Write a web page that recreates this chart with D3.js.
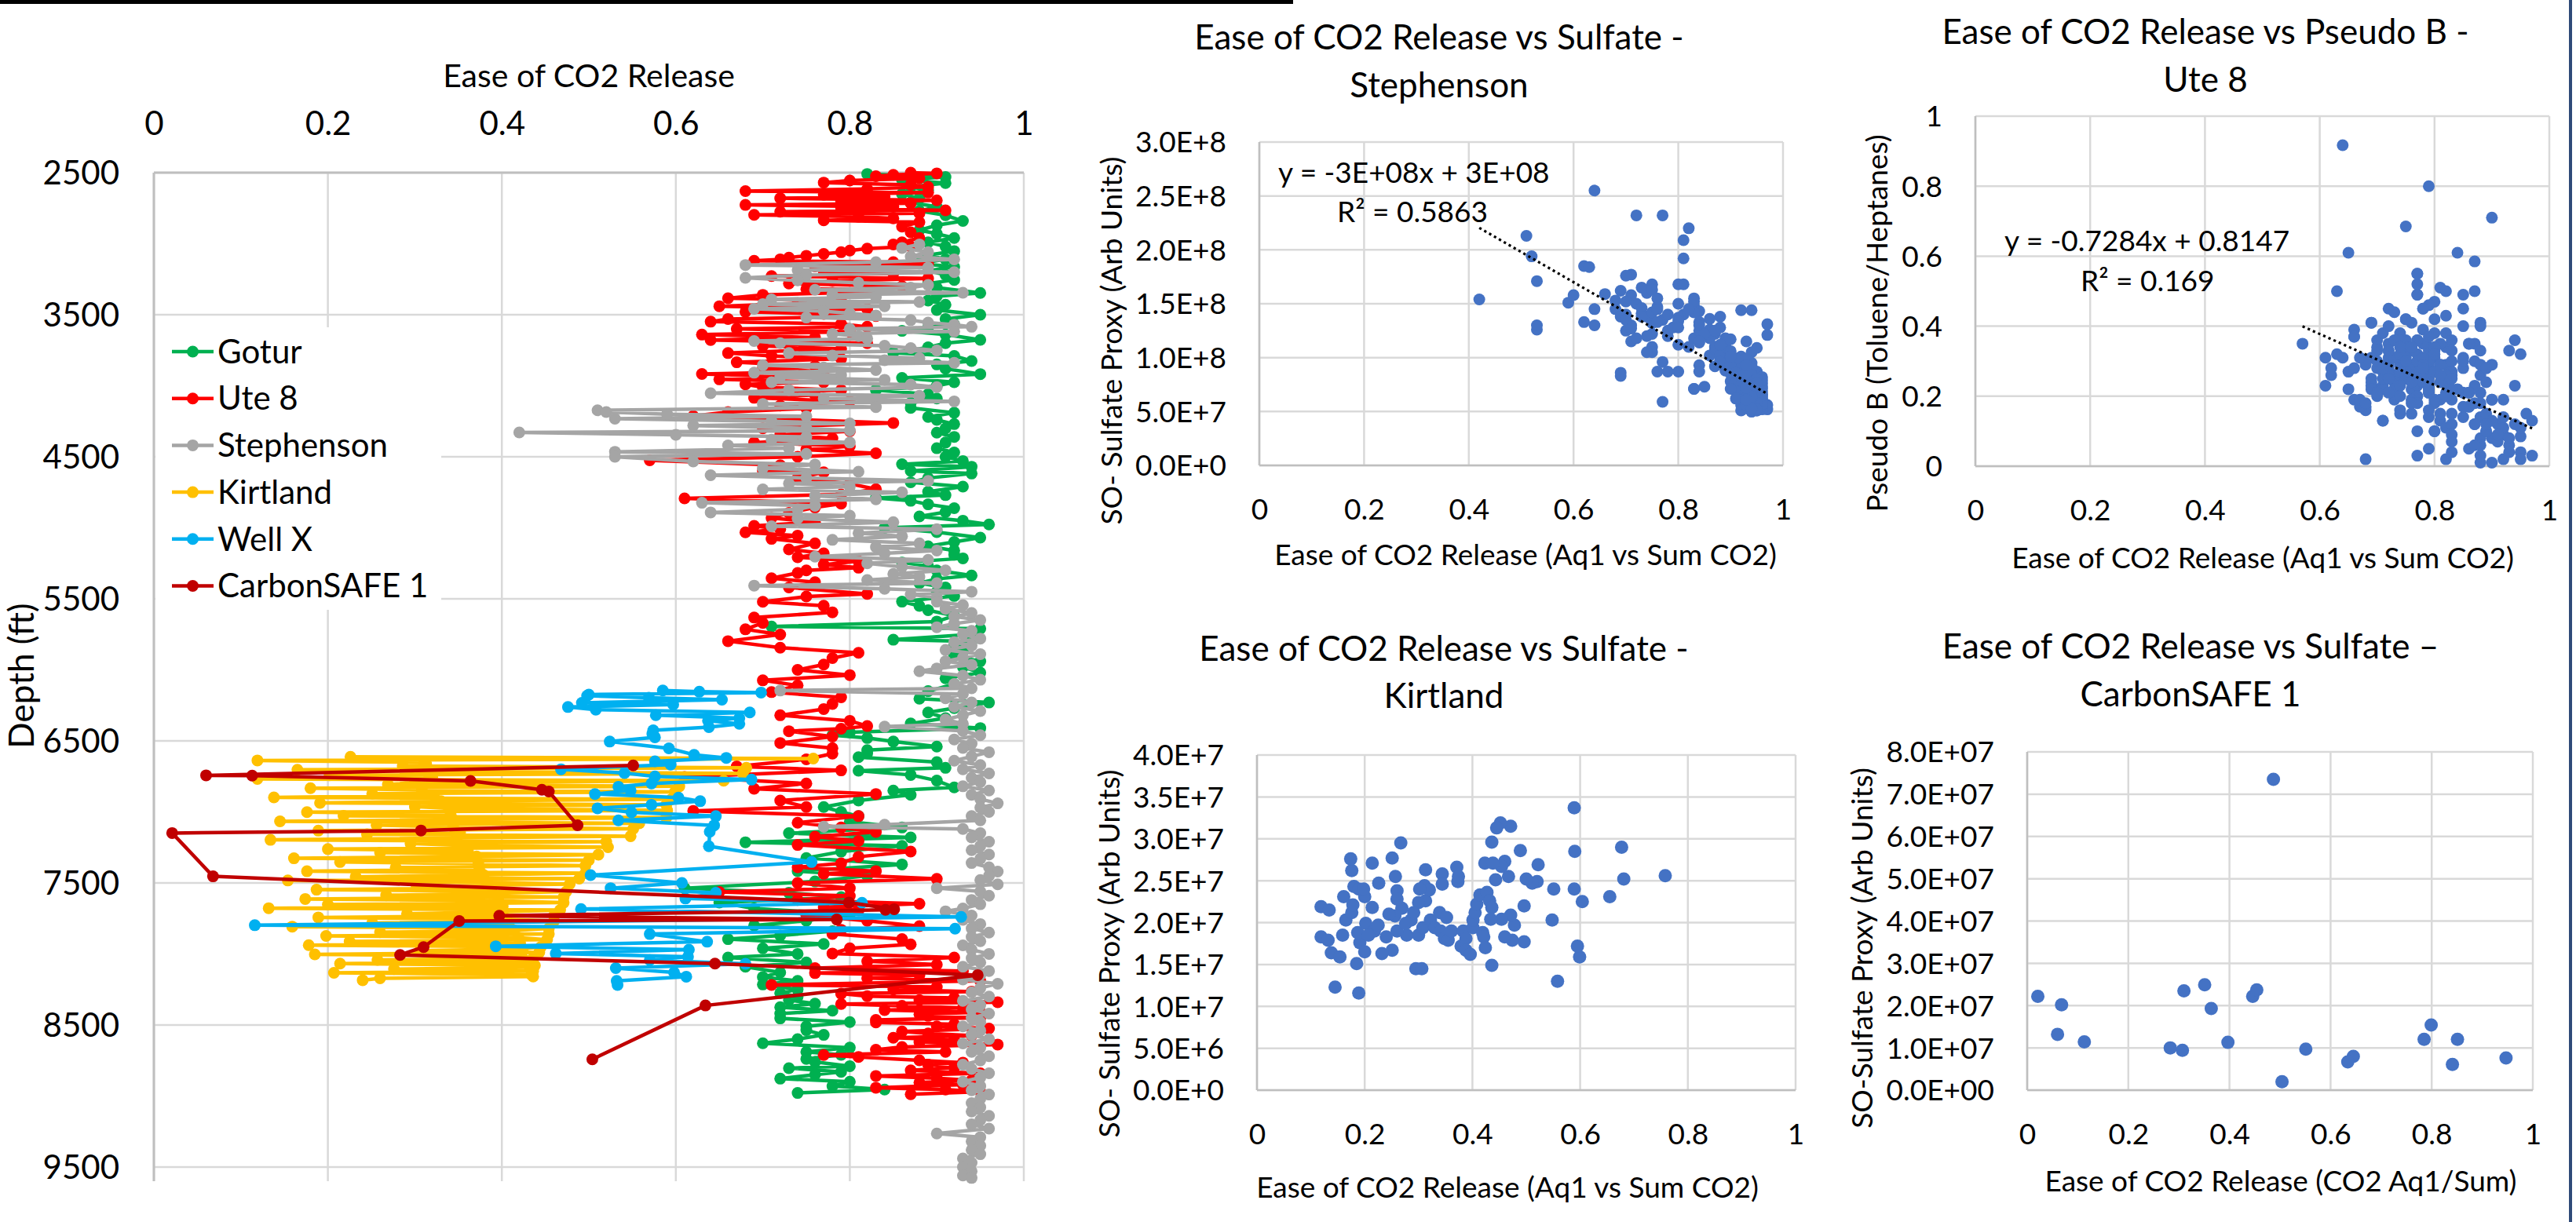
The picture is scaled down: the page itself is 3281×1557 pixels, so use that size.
<!DOCTYPE html>
<html><head><meta charset="utf-8">
<script src="https://cdn.jsdelivr.net/npm/d3@7"></script>
<style>
body{margin:0;background:#fff}
svg{display:block}
text{font-family:Lato,"Open Sans",sans-serif;fill:#000}
</style>
</head><body>
<script>
// ---------------- DATA ----------------
const easeTicks = [0, 0.2, 0.4, 0.6, 0.8, 1];
const depthTicks = [2500, 3500, 4500, 5500, 6500, 7500, 8500, 9500];
const seriesNames = ["Gotur", "Ute 8", "Stephenson", "Kirtland", "Well X", "CarbonSAFE 1"];
const seriesColors = ["#00B050", "#FF0000", "#A5A5A5", "#FFC000", "#00B0F0", "#C00000"];

// Gotur: [depth ft, ease of CO2 release]
const gotur = [[2509,.82],[2530,.91],[2550,.86],[2573,.91],[2600,.87],[2625,.89],[2650,.86],[2680,.88],[2710,.87],[2740,.90],[2770,.88],[2800,.91],[2840,.93],[2870,.90],[2905,.88],[2930,.90],[2960,.92],[2990,.89],[3020,.91],[3052,.92],[3080,.89],[3110,.91],[3140,.88],[3163,.92],[3190,.89],[3220,.91],[3255,.92],[3280,.89],[3310,.90],[3347,.95],[3370,.90],[3400,.89],[3430,.91],[3467,.90],[3500,.95],[3530,.91],[3568,.92],[3590,.89],[3614,.86],[3640,.91],[3677,.95],[3700,.91],[3730,.89],[3768,.85],[3790,.92],[3826,.94],[3850,.90],[3880,.91],[3918,.95],[3945,.86],[3975,.92],[4000,.90],[4030,.83],[4060,.89],[4090,.90],[4120,.87],[4156,.87],[4190,.92],[4220,.89],[4240,.90],[4270,.92],[4300,.91],[4330,.90],[4360,.92],[4400,.91],[4440,.90],[4470,.92],[4500,.91],[4530,.93],[4553,.86],[4570,.94],[4600,.87],[4618,.94],[4650,.89],[4680,.87],[4710,.93],[4746,.89],[4770,.91],[4790,.83],[4810,.87],[4835,.89],[4862,.92],[4890,.91],[4920,.88],[4950,.93],[4977,.96],[5000,.84],[5030,.90],[5069,.95],[5100,.92],[5130,.89],[5160,.92],[5190,.92],[5215,.93],[5244,.86],[5270,.89],[5300,.90],[5336,.94],[5360,.90],[5390,.88],[5420,.91],[5450,.90],[5480,.92],[5520,.86],[5550,.88],[5580,.89],[5620,.92],[5660,.90],[5695,.71],[5710,.95],[5750,.94],[5788,.85],[5800,.94],[5830,.92],[5870,.93],[5900,.92],[5940,.95],[5980,.93],[6020,.95],[6060,.91],[6100,.92],[6150,.89],[6203,.88],[6230,.96],[6270,.92],[6300,.89],[6340,.91],[6378,.87],[6410,.95],[6440,.80],[6460,.78],[6480,.82],[6505,.85],[6540,.90],[6565,.82],[6588,.82],[6615,.81],[6650,.90],[6690,.91],[6710,.81],[6740,.87],[6780,.90],[6828,.92],[6850,.85],[6880,.87],[6920,.81],[6966,.77],[7000,.79],[7030,.81],[7070,.80],[7110,.86],[7150,.73],[7180,.87],[7214,.68],[7240,.86],[7280,.79],[7325,.75],[7370,.86],[7417,.74],[7450,.82],[7490,.76],[7537,.61],[7570,.73],[7600,.79],[7638,.65],[7680,.69],[7720,.80],[7767,.75],[7800,.69],[7840,.78],[7870,.72],[7896,.66],[7930,.77],[7960,.70],[8000,.74],[8025,.66],[8060,.75],[8090,.68],[8130,.72],[8163,.70],[8190,.74],[8215,.70],[8250,.74],[8275,.72],[8301,.74],[8325,.73],[8350,.76],[8375,.72],[8400,.78],[8420,.72],[8454,.72],[8480,.80],[8510,.75],[8537,.75],[8570,.77],[8600,.74],[8629,.70],[8660,.80],[8690,.75],[8710,.79],[8739,.75],[8760,.76],[8790,.80],[8804,.73],[8830,.79],[8850,.76],[8878,.72],[8900,.80],[8930,.78],[8955,.84],[8979,.74]];

// Ute 8: [depth, ease, Pseudo B (toluene/heptanes)]
const ute8 = [[2500,.87,.12],[2505,.90,.08],[2515,.85,.21],[2525,.83,.26],[2540,.88,.14],[2555,.80,.31],[2570,.77,.27],[2585,.87,.18],[2600,.89,.10],[2615,.82,.34],[2630,.68,.02],[2640,.89,.15],[2655,.77,.36],[2668,.84,.22],[2680,.72,.45],[2695,.90,.19],[2705,.79,.24],[2715,.87,.30],[2727,.68,.17],[2740,.85,.49],[2752,.79,.29],[2765,.91,.12],[2775,.72,.30],[2786,.88,.41],[2797,.69,.41],[2810,.81,.51],[2822,.85,.45],[2835,.77,.55],[2848,.88,.26],
[2880,.86,.35],[2920,.87,.50],[2960,.88,.21],[2990,.86,.17],
[3005,.85,.28],[3020,.87,.23],[3035,.82,.50],[3048,.80,.47],[3060,.79,.33],[3072,.77,.49],[3085,.75,.42],[3098,.73,.44],[3110,.72,.31],[3120,.69,.25],[3130,.85,.40],[3145,.89,.28],[3160,.76,.29],[3178,.83,.19],[3195,.77,.52],[3210,.85,.31],[3228,.71,.23],[3245,.89,.24],[3262,.78,.45],[3280,.73,.26],[3300,.86,.21],[3320,.75,.685],[3340,.82,.38],[3360,.70,.36],[3384,.66,.19],[3400,.79,.80],[3420,.74,.29],[3440,.65,.27],[3460,.82,.24],[3480,.68,.16],[3494,.77,.30],[3510,.83,.36],[3530,.66,.39],[3549,.64,.917],[3565,.79,.25],[3585,.82,.43],[3600,.67,.17],[3620,.80,.42],[3640,.63,.50],[3660,.76,.22],[3678,.64,.31],[3700,.82,.29],[3720,.70,.34],[3740,.79,.46],[3770,.66,.37],[3790,.71,.13],[3810,.79,.21],[3835,.67,.19],[3862,.76,.33],[3880,.70,.28],[3900,.77,.23],[3917,.63,.32],[3935,.72,.27],[3955,.65,.61],[3975,.77,.49],[3990,.68,.30],[4010,.70,.22],[4030,.79,.34],[4046,.71,.38],[4065,.76,.26],[4085,.69,.31],[4110,.80,.19],[4140,.72,.35],[4160,.75,.42],[4185,.66,.28],[4213,.62,.26],[4240,.75,.31],[4262,.85,.30],[4285,.73,.24],[4300,.70,.20],[4320,.80,.10],[4345,.72,.29],[4370,.78,.45],[4400,.69,.23],[4425,.80,.33],[4450,.75,.36],[4475,.83,.27],[4500,.74,.15],
[4525,.57,.35],[4560,.72,.28],[4600,.70,.21],[4609,.77,.32],[4650,.74,.25],[4690,.80,.38],[4728,.83,.22],[4765,.79,.27],[4793,.61,.31],[4830,.79,.30],[4857,.76,.41],[4895,.73,.19],[4931,.71,.27],[4960,.76,.34],[4986,.69,.24],[5010,.72,.33],[5032,.68,.29],[5055,.74,.37],[5078,.71,.22],[5110,.76,.15],[5152,.73,.31],[5180,.77,.20],[5207,.74,.26],[5235,.81,.35],[5260,.77,.30],[5281,.81,.24],[5300,.75,.34],[5318,.74,.38],[5355,.71,.25],[5383,.76,.19],[5420,.73,.22],[5466,.82,.20],[5484,.75,.27],[5521,.70,.30],[5549,.77,.55],[5595,.78,.28],[5632,.69,.22],[5670,.70,.33],[5715,.68,.18],[5752,.72,.40],[5798,.66,.37],[5844,.72,.26],[5880,.81,.29],[5917,.78,.35],[5963,.77,.24],[6000,.74,.32],[6037,.80,.27],[6074,.70,.21],[6110,.74,.36],[6157,.71,.28],[6194,.79,.23],[6240,.78,.31],[6276,.77,.18],[6320,.72,.25],[6359,.80,.34],[6396,.82,.26],
[6415,.79,.21],[6432,.73,.36],[6470,.78,.29],[6515,.72,.33],[6552,.78,.39],[6590,.78,.25],[6630,.75,.30],[6680,.67,.31],[6708,.79,.14],[6754,.61,.23],[6800,.75,.27],[6837,.69,.41],[6874,.83,.33],[6920,.72,.21],[6966,.75,.25],[6993,.62,.28],[7030,.81,.13],[7076,.74,.34],[7110,.79,.22],[7141,.83,.30],[7175,.76,.18],[7205,.81,.29],[7233,.74,.23],[7279,.87,.35],[7316,.81,.19],[7362,.79,.37],[7390,.74,.16],[7417,.83,.25],[7436,.77,.03],[7472,.90,.71],[7500,.74,.27],[7537,.80,.32],[7564,.65,.22],[7592,.80,.18],[7620,.74,.20],[7647,.88,.29],[7670,.77,.36],[7693,.81,.15],[7730,.75,.26],[7767,.82,.21],[7804,.88,.33],[7830,.79,.05],[7859,.78,.24],[7896,.86,.17],[7933,.87,.12],[7960,.80,.10],[7997,.78,.28],[8025,.92,.09],
[8052,.82,.20],[8075,.90,.13],[8100,.76,.34],[8120,.93,.06],[8135,.76,.24],[8150,.88,.18],[8170,.82,.11],[8190,.95,.085],[8218,.71,.13],[8233,.90,.29],[8250,.85,.14],[8265,.94,.36],[8280,.79,.22],[8297,.82,.02],[8310,.92,.11],[8325,.88,.08],[8340,.97,.13],[8353,.79,.16],[8365,.86,.35],[8380,.93,.33],[8395,.84,.61],[8410,.95,.04],[8425,.88,.06],[8436,.89,.28],[8450,.95,.32],[8465,.83,.12],[8482,.83,.09],[8495,.92,.02],[8510,.90,.19],[8525,.96,.15],[8546,.86,.05],[8560,.89,.10],[8575,.94,.23],[8590,.85,.17],[8605,.92,.19],[8620,.88,.01],[8638,.97,.03],[8655,.86,.21],[8675,.83,.15],[8690,.91,.07],[8712,.77,.10],[8725,.81,.26],[8749,.88,.40],[8765,.93,.04],[8780,.89,.12],[8800,.92,.14],[8820,.87,.585],[8840,.95,.11],[8859,.83,.07],[8875,.90,.01],[8890,.94,.12],[8905,.88,.03],[8920,.93,.08],[8942,.83,.04],[8955,.91,.09],[8970,.95,.02],[8988,.87,.06]];

// Stephenson: [depth, ease, SO- sulfate proxy]
const stephenson = [[3005,.88,.95e8],[3030,.86,1.02e8],[3060,.89,.88e8],[3090,.87,1.10e8],[3110,.92,.78e8],[3130,.83,1.48e8],[3150,.68,1.45e8],[3168,.89,.96e8],[3185,.74,1.60e8],[3200,.92,.82e8],[3220,.75,1.32e8],[3240,.68,1.53e8],[3258,.74,1.38e8],[3275,.81,1.40e8],[3290,.89,1.05e8],[3310,.87,.92e8],[3325,.76,1.47e8],[3345,.93,1.15e8],[3360,.78,1.25e8],[3375,.83,1.55e8],[3392,.71,1.77e8],[3410,.88,1.28e8],[3425,.70,1.25e8],[3440,.84,1.33e8],[3458,.69,.86e8],[3475,.77,2.32e8],[3490,.80,1.50e8],[3505,.83,1.18e8],[3520,.75,1.10e8],[3538,.87,1.22e8],[3555,.89,1.13e8],[3570,.92,.93e8],[3585,.94,1.05e8],[3600,.80,1.37e8],[3618,.92,1.44e8],[3635,.78,1.20e8],[3650,.81,2.09e8],[3668,.82,2.20e8],[3685,.69,.83e8],[3700,.72,2.32e8],[3718,.84,1.25e8],[3735,.87,1.08e8],[3752,.90,1.17e8],[3770,.73,1.41e8],[3788,.78,.87e8],[3805,.88,.98e8],[3820,.84,1.43e8],[3838,.92,1.01e8],[3855,.70,1.40e8],[3872,.77,.59e8],[3890,.83,.71e8],[3908,.69,1.38e8],[3925,.79,1.28e8],[3940,.72,1.50e8],[3958,.84,1.14e8],[3975,.71,1.30e8],[3992,.87,1.10e8],[4010,.90,.85e8],[4030,.73,1.65e8],[4053,.64,2.55e8],[4070,.88,1.02e8],[4090,.77,1.35e8],[4110,.92,.80e8],[4128,.70,1.76e8],[4150,.83,1.52e8],[4173,.51,2.13e8],[4185,.52,1.94e8],[4200,.59,1.51e8],[4215,.75,1.68e8],[4232,.53,1.26e8],[4250,.71,1.58e8],[4265,.80,1.68e8],[4280,.62,1.85e8],[4300,.75,1.22e8],[4315,.80,.87e8],[4329,.42,1.54e8],[4345,.60,1.58e8],[4360,.75,1.42e8],[4380,.71,1.15e8],[4400,.80,1.34e8],[4420,.66,1.59e8],[4440,.73,1.46e8],[4465,.53,1.71e8],[4480,.75,1.05e8],[4500,.53,1.30e8],
[4533,.62,1.33e8],[4555,.76,1.45e8],[4580,.70,1.52e8],[4605,.81,1.92e8],[4630,.64,1.45e8],[4650,.75,1.63e8],[4670,.89,1.10e8],[4688,.73,1.38e8],[4710,.80,1.28e8],[4730,.70,1.35e8],[4750,.86,1.18e8],[4775,.76,.87e8],[4800,.83,.71e8],[4824,.63,1.84e8],[4845,.76,1.33e8],[4870,.74,1.20e8],[4892,.64,1.30e8],[4915,.80,1.12e8],[4935,.74,1.05e8],[4960,.85,.73e8],[4989,.71,1.27e8],[5010,.90,1.03e8],[5038,.81,1.68e8],[5060,.86,1.26e8],[5085,.78,1.40e8],[5110,.88,.96e8],[5135,.83,1.42e8],[5160,.90,.90e8],[5180,.84,1.30e8],[5203,.76,1.55e8],[5225,.89,1.18e8],[5250,.82,1.45e8],[5275,.86,1.36e8],[5300,.91,.83e8],[5325,.85,1.22e8],[5345,.88,1.38e8],[5368,.82,1.10e8],[5390,.90,1.00e8],[5407,.69,1.62e8],[5430,.84,1.15e8],[5450,.94,.92e8],[5470,.87,1.25e8],[5490,.90,.78e8],
[5520,.90,.95e8],[5545,.93,.72e8],[5570,.91,.88e8],[5600,.94,.66e8],[5625,.92,.81e8],[5650,.95,.58e8],[5675,.92,.97e8],[5700,.90,1.06e8],[5725,.94,.75e8],[5750,.93,.62e8],[5780,.95,.70e8],[5805,.92,.91e8],[5830,.94,.55e8],[5860,.91,.99e8],[5890,.95,.64e8],[5915,.93,.85e8],[5940,.91,.77e8],[5965,.94,.60e8],[5990,.90,.92e8],[6010,.88,1.12e8],[6040,.93,.68e8],[6070,.95,.52e8],[6100,.92,.74e8],[6130,.94,.83e8],[6146,.72,1.18e8],[6170,.93,.57e8],[6200,.91,.86e8],[6230,.94,.71e8],[6260,.92,.63e8],[6290,.95,.79e8],[6320,.93,.53e8],[6350,.91,.69e8],[6380,.93,.88e8],[6400,.84,.93e8],[6430,.93,.61e8],[6460,.95,.74e8],[6490,.92,.56e8],[6520,.94,.95e8],[6550,.93,.67e8],[6580,.96,.59e8],[6610,.94,.80e8],[6640,.92,.51e8],[6670,.95,.87e8],[6700,.93,.73e8],[6730,.96,.62e8],[6760,.94,.54e8],[6790,.95,.69e8],[6820,.93,.99e8],[6850,.96,.76e8],[6880,.94,.58e8],[6910,.95,.64e8],[6940,.97,.52e8],[6970,.95,.84e8],[7000,.96,.61e8],[7030,.94,.72e8],[7060,.95,.55e8],[7090,.84,.87e8],[7104,.77,.96e8],[7120,.93,.65e8],[7150,.95,.78e8],[7180,.94,.50e8],[7210,.96,.68e8],[7240,.95,.57e8],[7270,.94,.90e8],[7300,.96,.53e8],[7330,.95,.66e8],[7360,.94,.75e8],[7390,.96,.60e8],[7420,.97,.56e8],[7450,.96,.82e8],[7480,.95,.51e8],[7510,.97,1.31e8],[7537,.90,.71e8],[7560,.95,.63e8],[7590,.96,.58e8],[7620,.94,.84e8],[7650,.95,.54e8],[7680,.93,.70e8],[7700,.91,.62e8],[7730,.94,.59e8],[7760,.93,.78e8],[7790,.95,.52e8],[7820,.94,.66e8],[7850,.96,.73e8],[7880,.94,.55e8],[7910,.95,.61e8],[7940,.93,.81e8],[7970,.94,.57e8],[8000,.96,.64e8],[8030,.94,.50e8],[8060,.95,.69e8],[8090,.93,.60e8],[8120,.96,.53e8],[8150,.95,.77e8],[8180,.93,.58e8],[8210,.97,1.21e8],[8240,.95,.62e8],[8270,.94,.52e8],[8300,.96,.71e8],[8330,.93,.86e8],[8360,.95,.55e8],[8390,.94,.65e8],[8420,.96,.58e8],[8450,.94,.74e8],[8480,.95,.51e8],[8510,.93,.67e8],[8540,.95,.60e8],[8570,.94,.54e8],[8600,.96,.79e8],[8630,.93,.63e8],[8660,.95,.56e8],[8690,.94,.70e8],[8720,.96,.52e8],[8750,.95,.61e8],[8780,.93,.93e8],[8810,.94,.57e8],[8840,.96,.66e8],[8870,.95,.53e8],[8900,.93,.74e8],[8930,.95,.59e8],[8960,.94,.68e8],[8990,.96,.55e8],[9020,.95,.72e8],[9050,.94,.60e8],[9080,.95,1.09e8],[9110,.94,.63e8],[9140,.96,.57e8],[9170,.95,.80e8],[9200,.94,.54e8],[9230,.96,.65e8],[9264,.90,1.01e8],[9290,.95,.58e8],[9320,.94,.70e8],[9350,.95,.52e8],[9380,.94,.62e8],[9410,.95,.76e8],[9440,.93,.56e8],[9470,.94,.64e8],[9500,.93,.72e8],[9530,.94,.53e8],[9560,.93,.61e8],[9577,.94,1.44e8]];

// Kirtland: [depth, ease, SO- sulfate proxy]
const kirtland = [[6612,.226,2.47e7],[6625,.758,2.56e7],[6638,.119,2.19e7],[6651,.311,2.44e7],[6664,.313,2.63e7],[6677,.286,2.03e7],[6690,.681,2.52e7],[6703,.165,2.03e7],[6716,.313,2.26e7],[6729,.677,2.90e7],[6742,.202,1.99e7],[6755,.320,2.39e7],[6768,.119,1.83e7],[6781,.655,2.31e7],[6794,.300,1.85e7],[6807,.269,2.17e7],[6820,.604,2.25e7],[6833,.180,2.43e7],[6846,.308,1.94e7],[6859,.599,1.59e7],[6872,.251,1.67e7],[6885,.322,2.03e7],[6898,.138,1.64e7],[6911,.595,1.72e7],[6924,.330,1.94e7],[6937,.191,1.76e7],[6950,.589,2.40e7],[6963,.300,2.24e7],[6976,.339,2.12e7],[6989,.590,2.85e7],[7002,.176,2.62e7],[7015,.341,1.90e7],[7028,.218,1.90e7],[7041,.589,3.37e7],[7054,.344,2.58e7],[7067,.145,1.23e7],[7080,.558,1.30e7],[7093,.256,2.08e7],[7106,.344,2.46e7],[7119,.551,2.40e7],[7132,.189,1.16e7],[7145,.352,2.06e7],[7158,.245,2.10e7],[7171,.548,2.03e7],[7184,.348,1.81e7],[7197,.134,2.15e7],[7210,.520,2.49e7],[7223,.295,1.45e7],[7236,.355,1.79e7],[7249,.522,2.69e7],[7262,.200,2.31e7],[7275,.361,1.90e7],[7288,.260,2.38e7],[7301,.511,2.47e7],[7314,.371,2.66e7],[7327,.161,2.31e7],[7340,.500,2.52e7],[7353,.214,2.71e7],[7366,.373,2.49e7],[7379,.496,1.77e7],[7392,.278,1.85e7],[7405,.374,2.55e7],[7418,.176,2.12e7],[7431,.496,2.20e7],[7444,.379,1.72e7],[7457,.232,1.63e7],[7470,.489,2.86e7],[7483,.154,1.59e7],[7496,.383,1.90e7],[7509,.478,1.97e7],[7522,.302,2.40e7],[7535,.388,1.81e7],[7548,.187,1.88e7],[7561,.474,1.79e7],[7574,.388,1.67e7],[7587,.267,2.95e7],[7600,.471,2.09e7],[7613,.174,2.76e7],[7626,.396,1.62e7],[7639,.471,3.15e7],[7652,.200,1.65e7],[7665,.401,1.94e7],[7678,.132,1.79e7],[7691,.467,2.55e7],[7704,.401,2.03e7],[7717,.291,2.12e7],[7730,.460,1.83e7],[7743,.189,2.40e7],[7756,.405,2.12e7],[7769,.460,2.73e7],[7782,.251,2.77e7],[7795,.408,2.22e7],[7808,.159,1.85e7],[7821,.454,2.04e7],[7834,.414,2.33e7],[7847,.260,1.90e7],[7860,.454,2.67e7],[7873,.198,2.40e7],[7886,.419,1.88e7],[7899,.452,3.19e7],[7912,.225,1.97e7],[7925,.421,1.83e7],[7938,.178,2.21e7],[7951,.445,3.13e7],[7964,.424,1.70e7],[7977,.306,1.45e7],[7990,.443,2.51e7],[8003,.185,1.51e7],[8016,.423,2.71e7],[8029,.436,1.49e7],[8042,.257,2.55e7],[8055,.427,2.36e7],[8068,.214,2.18e7],[8081,.438,2.71e7],[8094,.432,2.26e7],[8107,.276,1.99e7],[8120,.436,2.96e7],[8133,.207,1.85e7],[8146,.434,2.04e7],[8159,.436,2.18e7],[8172,.260,2.28e7],[8185,.240,1.83e7]];

// Well X: [depth, ease]
const wellX = [[6145,.585],[6154,.627],[6160,.698],[6174,.500],[6183,.498],[6196,.569],[6210,.653],[6232,.492],[6245,.597],[6262,.476],[6281,.508],[6300,.685],[6319,.577],[6340,.673],[6358,.637],[6380,.673],[6404,.638],[6426,.574],[6450,.573],[6475,.576],[6505,.524],[6553,.592],[6598,.621],[6620,.658],[6644,.576],[6667,.594],[6700,.468],[6727,.541],[6750,.576],[6773,.687],[6800,.572],[6823,.534],[6850,.548],[6874,.507],[6900,.603],[6925,.628],[6950,.572],[6975,.510],[7003,.549],[7030,.646],[7060,.534],[7095,.644],[7140,.639],[7242,.638],[7353,.756],[7445,.502],[7500,.607],[7537,.525],[7570,.646],[7610,.611],[7640,.814],[7684,.491],[7739,.928],[7798,.116],[7822,.921],[7860,.570],[7914,.636],[7946,.393],[7970,.615],[7997,.462],[8020,.614],[8043,.570],[8070,.680],[8100,.531],[8130,.598],[8160,.612],[8190,.532],[8218,.533]];

// CarbonSAFE 1: [depth, ease, SO- sulfate proxy]
const carbonSafe = [[6673,.551,.97e7],[6743,.060,1.32e7],[6745,.113,1.14e7],[6782,.364,1.93e7],[6844,.446,2.22e7],[6857,.454,2.37e7],[7094,.487,7.35e7],[7131,.307,.94e7],[7149,.021,2.22e7],[7454,.068,2.02e7],[7638,.799,1.54e7],[7685,.851,1.20e7],[7690,.841,.61e7],[7731,.397,1.13e7],[7758,.785,1.20e7],[7768,.351,2.49e7],[7952,.310,2.35e7],[8007,.283,1.00e7],[8068,.645,.80e7],[8149,.947,.76e7],[8363,.634,.67e7],[8742,.504,.20e7]];

// scatter axes ticks & trendlines
const stephSulfTicks = [0, 5e7, 1e8, 1.5e8, 2e8, 2.5e8, 3e8];
const pseudoBTicks = [0, 0.2, 0.4, 0.6, 0.8, 1];
const kirtSulfTicks = [0, 5e6, 1e7, 1.5e7, 2e7, 2.5e7, 3e7, 3.5e7, 4e7];
const csSulfTicks = [0, 1e7, 2e7, 3e7, 4e7, 5e7, 6e7, 7e7, 8e7];
const stephTrend = [-2.8e8, 3.38e8];   // slope, intercept
const uteTrend = [-0.7284, 0.8147];

// ---------------- DRAW ----------------
const W = 3281, H = 1557;
const svg = d3.select("body").append("svg").attr("width", W).attr("height", H);
svg.append("rect").attr("width", W).attr("height", H).attr("fill", "#fff");
const GRID = "#d9d9d9", AXIS = "#bfbfbf";

// ===== Left depth chart =====
const lx = d3.scaleLinear().domain([0, 1]).range([196, 1304]);
const ly = d3.scaleLinear().domain([2500, 9600]).range([220, 1505]);
const gL = svg.append("g");
gL.selectAll("line.vg").data(easeTicks).join("line").attr("class", "vg")
  .attr("x1", d => lx(d)).attr("x2", d => lx(d)).attr("y1", ly(2500)).attr("y2", ly(9600))
  .attr("stroke", GRID).attr("stroke-width", 2.5);
gL.selectAll("line.hg").data(depthTicks).join("line").attr("class", "hg")
  .attr("x1", lx(0)).attr("x2", lx(1)).attr("y1", d => ly(d)).attr("y2", d => ly(d))
  .attr("stroke", GRID).attr("stroke-width", 2.5);
gL.append("line").attr("x1", lx(0)).attr("x2", lx(0)).attr("y1", ly(2500)).attr("y2", ly(9600)).attr("stroke", AXIS).attr("stroke-width", 3);
gL.append("line").attr("x1", lx(0)).attr("x2", lx(1)).attr("y1", ly(2500)).attr("y2", ly(2500)).attr("stroke", AXIS).attr("stroke-width", 3);

const legG = svg.append("g");
legG.append("rect").attr("x", 198).attr("y", 417).attr("width", 364).attr("height", 360).attr("fill", "#fff");

const seriesData = [gotur, ute8, stephenson, kirtland, wellX, carbonSafe];
const line = d3.line().x(d => lx(d[1])).y(d => ly(d[0]));
seriesData.forEach((data, i) => {
  const g = svg.append("g");
  g.append("path").datum(data).attr("d", line).attr("fill", "none")
    .attr("stroke", seriesColors[i]).attr("stroke-width", 4.5).attr("stroke-linejoin", "round");
  g.selectAll("circle").data(data).join("circle")
    .attr("cx", d => lx(d[1])).attr("cy", d => ly(d[0])).attr("r", 7.5).attr("fill", seriesColors[i]);
});

// axes
const axTop = svg.append("g").attr("transform", `translate(0,${ly(2500)})`)
  .call(d3.axisTop(lx).tickValues(easeTicks).tickSize(0).tickFormat(d3.format("~g")));
axTop.select(".domain").remove();
axTop.selectAll("text").attr("y", -63).attr("dy", "0.35em").style("font-size", "42px");
const axLeft = svg.append("g").attr("transform", `translate(${lx(0)},0)`)
  .call(d3.axisLeft(ly).tickValues(depthTicks).tickSize(0).tickFormat(d3.format("d")));
axLeft.select(".domain").remove();
axLeft.selectAll("text").attr("x", -44).attr("dy", "0.35em").style("font-size", "42px");
svg.append("text").attr("x", 750).attr("y", 97).attr("text-anchor", "middle").attr("dy", "0.35em")
  .style("font-size", "41px").text("Ease of CO2 Release");
svg.append("text").attr("transform", "translate(43,861) rotate(-90)").attr("text-anchor", "middle")
  .style("font-size", "44px").text("Depth (ft)");

// legend entries
legG.raise();
seriesNames.forEach((name, i) => {
  const yy = 448 + i * 59.7;
  legG.append("line").attr("x1", 219).attr("x2", 272).attr("y1", yy).attr("y2", yy)
    .attr("stroke", seriesColors[i]).attr("stroke-width", 4.5);
  legG.append("circle").attr("cx", 245.5).attr("cy", yy).attr("r", 7.5).attr("fill", seriesColors[i]);
  legG.append("text").attr("x", 277).attr("y", yy).attr("dy", "0.35em").style("font-size", "42px").text(name);
});

// ===== Scatter charts =====
const fmtE1 = v => d3.format(".1e")(v).toUpperCase();
const fmtE2 = v => d3.format(".1e")(v).toUpperCase().replace(/E([+-])(\d)$/, "E$10$2");
function scatter(o) {
  const x = d3.scaleLinear().domain([0, 1]).range([o.x0, o.x1]);
  const y = d3.scaleLinear().domain([0, o.ymax]).range([o.yb, o.yt]);
  const g = svg.append("g");
  g.selectAll("line.v").data(easeTicks).join("line").attr("class", "v")
    .attr("x1", d => x(d)).attr("x2", d => x(d)).attr("y1", o.yb).attr("y2", o.yt)
    .attr("stroke", GRID).attr("stroke-width", 2.5);
  g.selectAll("line.h").data(o.yticks).join("line").attr("class", "h")
    .attr("x1", o.x0).attr("x2", o.x1).attr("y1", d => y(d)).attr("y2", d => y(d))
    .attr("stroke", GRID).attr("stroke-width", 2.5);
  g.append("line").attr("x1", o.x0).attr("x2", o.x0).attr("y1", o.yb).attr("y2", o.yt).attr("stroke", AXIS).attr("stroke-width", 2.5);
  g.append("line").attr("x1", o.x0).attr("x2", o.x1).attr("y1", o.yb).attr("y2", o.yb).attr("stroke", AXIS).attr("stroke-width", 2.5);

  const ax = g.append("g").attr("transform", `translate(0,${o.yb})`)
    .call(d3.axisBottom(x).tickValues(easeTicks).tickSize(0).tickFormat(d3.format("~g")));
  ax.select(".domain").remove();
  ax.selectAll("text").attr("y", 56).attr("dy", "0.35em").style("font-size", "37px");
  const ay = g.append("g").attr("transform", `translate(${o.x0},0)`)
    .call(d3.axisLeft(y).tickValues(o.yticks).tickSize(0).tickFormat(o.yfmt));
  ay.select(".domain").remove();
  ay.selectAll("text").attr("x", -42).attr("dy", "0.35em").style("font-size", "37px");

  g.selectAll("circle").data(o.data).join("circle")
    .attr("cx", d => x(d[1])).attr("cy", d => y(d[2])).attr("r", o.r).attr("fill", "#4472C4");

  if (o.trend) {
    const ext = d3.extent(o.data, d => d[1]);
    g.append("line").attr("x1", x(ext[0])).attr("x2", x(ext[1]))
      .attr("y1", y(o.trend[0] * ext[0] + o.trend[1])).attr("y2", y(o.trend[0] * ext[1] + o.trend[1]))
      .attr("stroke", "#000").attr("stroke-width", 3.2).attr("stroke-dasharray", "3.2 4");
    o.tlabels.forEach(t => g.append("text").attr("x", t[0]).attr("y", t[1]).attr("dy", "0.35em")
      .style("font-size", "37px").text(t[2]));
  }
  const tt = g.append("text").attr("text-anchor", "middle").style("font-size", "44px");
  tt.append("tspan").attr("x", o.tx).attr("y", o.ty[0]).attr("dy", "0.35em").text(o.title[0]);
  tt.append("tspan").attr("x", o.tx).attr("y", o.ty[1]).attr("dy", "0.35em").text(o.title[1]);
  g.append("text").attr("x", o.xt[0]).attr("y", o.xt[1]).attr("text-anchor", "middle").attr("dy", "0.35em")
    .style("font-size", "37px").text(o.xtitle);
  g.append("text").attr("transform", `translate(${o.ytl[0]},${o.ytl[1]}) rotate(-90)`).attr("text-anchor", "middle")
    .attr("dy", "0.35em").style("font-size", "37px").text(o.ytitle);
}

scatter({data: stephenson, x0: 1604, x1: 2271, yb: 593, yt: 181, ymax: 3e8, yticks: stephSulfTicks, yfmt: fmtE1, r: 7.5,
  trend: stephTrend, tlabels: [[1628, 220, "y = -3E+08x + 3E+08"], [1703, 270, "R² = 0.5863"]],
  title: ["Ease of CO2 Release vs Sulfate -", "Stephenson"], tx: 1833, ty: [48, 109],
  xtitle: "Ease of CO2 Release (Aq1 vs Sum CO2)", xt: [1943, 707],
  ytitle: "SO- Sulfate Proxy (Arb Units)", ytl: [1416, 434]});

scatter({data: ute8, x0: 2516, x1: 3247, yb: 594, yt: 148, ymax: 1, yticks: pseudoBTicks, yfmt: d3.format("~g"), r: 7.5,
  trend: uteTrend, tlabels: [[2553, 307, "y = -0.7284x + 0.8147"], [2650, 358, "R² = 0.169"]],
  title: ["Ease of CO2 Release vs Pseudo B -", "Ute 8"], tx: 2809, ty: [41, 102],
  xtitle: "Ease of CO2 Release (Aq1 vs Sum CO2)", xt: [2882, 711],
  ytitle: "Pseudo B (Toluene/Heptanes)", ytl: [2391, 412]});

scatter({data: kirtland, x0: 1601, x1: 2287, yb: 1389, yt: 962, ymax: 4e7, yticks: kirtSulfTicks, yfmt: fmtE1, r: 8.5,
  title: ["Ease of CO2 Release vs Sulfate -", "Kirtland"], tx: 1839, ty: [827, 887],
  xtitle: "Ease of CO2 Release (Aq1 vs Sum CO2)", xt: [1920, 1513],
  ytitle: "SO- Sulfate Proxy (Arb Units)", ytl: [1413, 1215]});

scatter({data: carbonSafe, x0: 2582, x1: 3226, yb: 1389, yt: 958, ymax: 8e7, yticks: csSulfTicks, yfmt: fmtE2, r: 8.5,
  title: ["Ease of CO2 Release vs Sulfate –", "CarbonSAFE 1"], tx: 2790, ty: [824, 885],
  xtitle: "Ease of CO2 Release (CO2 Aq1/Sum)", xt: [2905, 1505],
  ytitle: "SO-Sulfate Proxy (Arb Units)", ytl: [2372, 1208]});

// frame decorations
svg.append("rect").attr("x", 0).attr("y", 0).attr("width", 1647).attr("height", 5).attr("fill", "#000");
svg.append("line").attr("x1", 3274).attr("x2", 3274).attr("y1", 0).attr("y2", H).attr("stroke", "#2F4A78").attr("stroke-width", 4);
</script>
</body></html>
